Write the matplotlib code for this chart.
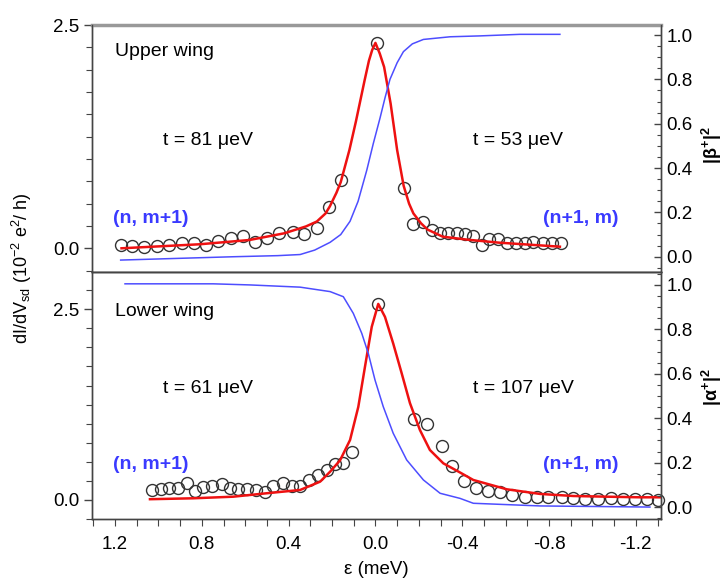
import matplotlib
matplotlib.use("Agg")
import matplotlib.pyplot as plt
from matplotlib.ticker import MultipleLocator, FixedLocator

plt.rcParams['font.family'] = ['Liberation Sans', 'DejaVu Sans']
plt.rcParams['mathtext.fontset'] = 'custom'
plt.rcParams['mathtext.rm'] = 'Liberation Sans'
plt.rcParams['mathtext.it'] = 'Liberation Sans:italic'
plt.rcParams['mathtext.bf'] = 'Liberation Sans:bold'

# ---------------- upper wing ----------------
up_eps = [1.174, 1.120, 1.066, 1.005, 0.950, 0.893, 0.836, 0.781, 0.724, 0.667,
          0.609, 0.555, 0.501, 0.443, 0.381, 0.329, 0.271, 0.212, 0.159, -0.009,
          -0.132, -0.172, -0.218, -0.259, -0.298, -0.336, -0.375, -0.413, -0.448,
          -0.490, -0.525, -0.566, -0.608, -0.648, -0.689, -0.728, -0.771, -0.812,
          -0.854]
up_g = [0.037, 0.029, 0.011, 0.029, 0.037, 0.056, 0.063, 0.037, 0.085, 0.119,
        0.138, 0.074, 0.119, 0.175, 0.186, 0.160, 0.224, 0.462, 0.765, 2.302,
        0.679, 0.275, 0.289, 0.205, 0.175, 0.168, 0.168, 0.157, 0.138,
        0.037, 0.101, 0.101, 0.056, 0.056, 0.063, 0.074, 0.063, 0.063,
        0.056]

up_fit_eps = [1.17, 0.81, 0.58, 0.42, 0.32, 0.27, 0.23, 0.21, 0.18, 0.16, 0.12,
              0.09, 0.07, 0.05, 0.03, 0.015, 0.0, -0.02, -0.04, -0.07, -0.10,
              -0.13, -0.155, -0.175, -0.21, -0.24, -0.31, -0.43, -0.57, -0.85]
up_fit_g = [0.0, 0.045, 0.093, 0.168, 0.245, 0.30, 0.39, 0.47, 0.62, 0.74, 1.10,
            1.42, 1.65, 1.88, 2.10, 2.22, 2.30, 2.18, 2.03, 1.62, 1.10,
            0.70, 0.50, 0.39, 0.28, 0.21, 0.13, 0.095, 0.063, 0.018]

up_beta_eps = [1.174, 0.656, 0.45, 0.347, 0.28, 0.209, 0.16, 0.117, 0.08, 0.040,
               0.01, -0.021, -0.045, -0.067, -0.10, -0.129, -0.17, -0.221,
               -0.344, -0.482, -0.666, -0.850]
up_beta = [-0.015, 0.0, 0.005, 0.01, 0.03, 0.065, 0.10, 0.16, 0.25, 0.39,
           0.51, 0.625, 0.72, 0.80, 0.875, 0.925, 0.96, 0.98,
           0.992, 0.996, 1.003, 1.003]

# ---------------- lower wing ----------------
lo_eps = [1.031, 0.988, 0.950, 0.911, 0.870, 0.831, 0.793, 0.754, 0.708, 0.670,
          0.632, 0.593, 0.550, 0.509, 0.471, 0.427, 0.386, 0.347, 0.305, 0.263,
          0.224, 0.186, 0.148, 0.109, -0.011, -0.178, -0.239, -0.306, -0.352,
          -0.408, -0.464, -0.520, -0.574, -0.628, -0.689, -0.743, -0.797, -0.859,
          -0.912, -0.966, -1.027, -1.084, -1.140, -1.196, -1.250, -1.304]
lo_g = [0.131, 0.140, 0.153, 0.161, 0.227, 0.122, 0.175, 0.183, 0.210, 0.153,
        0.144, 0.144, 0.131, 0.109, 0.187, 0.227, 0.187, 0.183, 0.262, 0.328,
        0.393, 0.472, 0.489, 0.633, 2.57, 1.058, 0.996, 0.712, 0.45,
        0.253, 0.153, 0.122, 0.109, 0.066, 0.043, 0.035, 0.035, 0.043,
        0.022, 0.013, 0.013, 0.022, 0.013, 0.013, 0.013, 0.0]

lo_fit_eps = [1.039, 0.839, 0.655, 0.501, 0.347, 0.255, 0.209, 0.163, 0.117,
              0.079, 0.048, 0.017, -0.013, -0.044, -0.082, -0.121, -0.159,
              -0.205, -0.251, -0.313, -0.390, -0.451, -0.605, -0.759, -0.912,
              -1.066, -1.219, -1.312]
lo_fit_g = [0.01, 0.022, 0.043, 0.088, 0.131, 0.24, 0.37, 0.52, 0.786,
            1.22, 1.75, 2.27, 2.57, 2.40, 2.05, 1.66, 1.27,
            0.917, 0.655, 0.48, 0.36, 0.262, 0.14, 0.079, 0.052,
            0.043, 0.035, 0.035]

lo_alpha_eps = [1.154, 0.748, 0.578, 0.347, 0.209, 0.148, 0.102, 0.063, 0.033,
                0.002, -0.036, -0.082, -0.144, -0.221, -0.298, -0.390, -0.451,
                -0.759, -1.265]
lo_alpha = [1.005, 1.005, 1.0, 0.99, 0.970, 0.947, 0.872, 0.782, 0.692,
            0.572, 0.452, 0.332, 0.212, 0.122, 0.062, 0.039, 0.017,
            0.005, 0.0]

x_ticks = [1.2, 0.8, 0.4, 0.0, -0.4, -0.8, -1.2]
x_labels = ['1.2', '0.8', '0.4', '0.0', '-0.4', '-0.8', '-1.2']

RED = '#ee1111'
BLUE = '#4d4dff'
LBLUE = '#3a3aff'
FRAME = '#444444'

fig = plt.figure(figsize=(7.28, 5.82), dpi=100)
ax_up = fig.add_axes([0.1264, 0.5318, 0.7816, 0.4252])
ax_lo = fig.add_axes([0.1264, 0.1074, 0.7816, 0.4244], sharex=ax_up)
ax_up_r = ax_up.twinx()
ax_lo_r = ax_lo.twinx()

circ = dict(ls='none', marker='o', ms=8.6, mfc='none', mec='#333333', mew=1.0,
            clip_on=False, zorder=2)

ax_up.plot(up_eps, up_g, **circ)
ax_up.plot(up_fit_eps, up_fit_g, color=RED, lw=1.8, zorder=3)
ax_up_r.plot(up_beta_eps, up_beta, color=BLUE, lw=1.1)

ax_lo.plot(lo_eps, lo_g, **circ)
ax_lo.plot(lo_fit_eps, lo_fit_g, color=RED, lw=1.8, zorder=3)
ax_lo_r.plot(lo_alpha_eps, lo_alpha, color=BLUE, lw=1.1)

ax_up.set_xlim(1.306, -1.316)
ax_up.set_ylim(-0.271, 2.5)
ax_lo.set_ylim(-0.256, 2.982)
ax_up_r.set_ylim(-0.071, 1.045)
ax_lo_r.set_ylim(-0.056, 1.056)

for ax in (ax_up, ax_lo):
    ax.yaxis.set_major_locator(FixedLocator([0.0, 2.5]))
    ax.yaxis.set_minor_locator(MultipleLocator(0.25))
    ax.set_yticklabels(['0.0', '2.5'])
    ax.xaxis.set_major_locator(FixedLocator(x_ticks))
    ax.xaxis.set_minor_locator(MultipleLocator(0.1))
    ax.tick_params(axis='y', which='major', direction='out', length=6, width=1,
                   color=FRAME, labelsize=13.5, pad=3)
    ax.tick_params(axis='y', which='minor', direction='out', length=4, width=0.8,
                   color=FRAME)
    ax.tick_params(axis='x', which='both', direction='out', length=5, width=0.8,
                   color=FRAME, labelsize=13.5, pad=7)
    ax.tick_params(top=False, right=False)

ax_up.tick_params(axis='x', labelbottom=False)
ax_lo.set_xticklabels(x_labels)

for ax in (ax_up_r, ax_lo_r):
    ax.yaxis.set_major_locator(MultipleLocator(0.2))
    ax.yaxis.set_minor_locator(MultipleLocator(0.05))
    ax.yaxis.set_major_formatter(plt.FuncFormatter(lambda v, p: f"{v:.1f}"))
    ax.tick_params(axis='y', which='major', direction='in', length=5, width=1,
                   color=FRAME, labelsize=13.5, pad=4)
    ax.tick_params(axis='y', which='minor', direction='in', length=3, width=0.8,
                   color=FRAME)

for ax in (ax_up, ax_lo, ax_up_r, ax_lo_r):
    for s in ax.spines.values():
        s.set_color(FRAME)
        s.set_linewidth(1.0)
ax_up.spines['top'].set_color('#999999')
ax_up.spines['top'].set_linewidth(2.5)
ax_up_r.spines['top'].set_visible(False)

# panel annotations
ax_up.text(0.040, 0.891, 'Upper wing', transform=ax_up.transAxes, fontsize=14,
           va='center', ha='left')
ax_up.text(0.125, 0.535, 't = 81 μeV', transform=ax_up.transAxes, fontsize=14,
           va='center', ha='left')
ax_up.text(0.669, 0.535, 't = 53 μeV', transform=ax_up.transAxes, fontsize=14,
           va='center', ha='left')
ax_up.text(0.037, 0.220, '(n, m+1)', transform=ax_up.transAxes, fontsize=14,
           va='center', ha='left', color=LBLUE, fontweight='bold')
ax_up.text(0.792, 0.220, '(n+1, m)', transform=ax_up.transAxes, fontsize=14,
           va='center', ha='left', color=LBLUE, fontweight='bold')

ax_lo.text(0.040, 0.841, 'Lower wing', transform=ax_lo.transAxes, fontsize=14,
           va='center', ha='left')
ax_lo.text(0.125, 0.532, 't = 61 μeV', transform=ax_lo.transAxes, fontsize=14,
           va='center', ha='left')
ax_lo.text(0.669, 0.532, 't = 107 μeV', transform=ax_lo.transAxes, fontsize=14,
           va='center', ha='left')
ax_lo.text(0.037, 0.221, '(n, m+1)', transform=ax_lo.transAxes, fontsize=14,
           va='center', ha='left', color=LBLUE, fontweight='bold')
ax_lo.text(0.792, 0.221, '(n+1, m)', transform=ax_lo.transAxes, fontsize=14,
           va='center', ha='left', color=LBLUE, fontweight='bold')

# axis titles
fig.text(0.030, 0.540, r'dI/dV$_{\rm sd}$ (10$^{-2}$ e$^{2}$/ h)', rotation=90,
         ha='center', va='center', fontsize=13)
fig.text(0.978, 0.751, r'$\mathbf{|\beta^{+}|^{2}}$', rotation=90,
         ha='center', va='center', fontsize=13)
fig.text(0.978, 0.335, r'$\mathbf{|\alpha^{+}|^{2}}$', rotation=90,
         ha='center', va='center', fontsize=13)
ax_lo.set_xlabel('ε (meV)', fontsize=13.5, labelpad=6)

fig.savefig('out.png', dpi=100, facecolor='white')
